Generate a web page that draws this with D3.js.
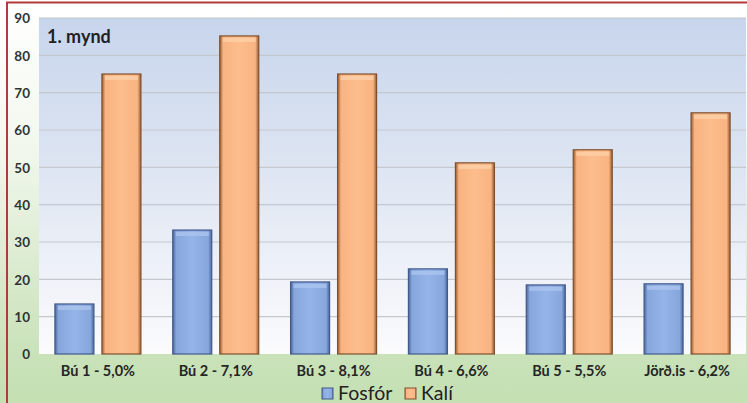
<!DOCTYPE html>
<html>
<head>
<meta charset="utf-8">
<script src="https://cdn.jsdelivr.net/npm/d3@7/dist/d3.min.js"></script>
<style>
  html, body { margin: 0; padding: 0; background: #fff; }
  svg { display: block; font-family: Lato, "Liberation Sans", sans-serif; }
</style>
</head>
<body>
<div id="chart"></div>
<script>
// Fosfór and Kalí per sample
const categories = ["Bú 1 - 5,0%", "Bú 2 - 7,1%", "Bú 3 - 8,1%", "Bú 4 - 6,6%", "Bú 5 - 5,5%", "Jörð.is - 6,2%"];
const fosfor = [13.4, 33.2, 19.3, 22.8, 18.5, 18.8];
const kali = [75, 85.2, 75, 51.2, 54.7, 64.6];
const seriesNames = ["Fosfór", "Kalí"];
const yTicks = [0, 10, 20, 30, 40, 50, 60, 70, 80, 90];
const title = "1. mynd";

const W = 747, H = 403;
const plot = { left: 39, right: 746, top: 18, bottom: 354 };

const svg = d3.select("#chart").append("svg").attr("width", W).attr("height", H);
const defs = svg.append("defs");

// outer background: white fading into light green
const bg = defs.append("linearGradient").attr("id", "bgGrad").attr("x1", 0).attr("y1", 0).attr("x2", 0).attr("y2", 1);
bg.append("stop").attr("offset", "0%").attr("stop-color", "#ffffff");
bg.append("stop").attr("offset", "35%").attr("stop-color", "#f3f8ef");
bg.append("stop").attr("offset", "88%").attr("stop-color", "#c9e2b9");
bg.append("stop").attr("offset", "100%").attr("stop-color", "#c5e0b3");

// plot area: light blue at top fading to white at bottom
const pg = defs.append("linearGradient").attr("id", "plotGrad").attr("x1", 0).attr("y1", 0).attr("x2", 0).attr("y2", 1);
pg.append("stop").attr("offset", "0%").attr("stop-color", "#c7d5ec");
pg.append("stop").attr("offset", "55%").attr("stop-color", "#e3e9f4");
pg.append("stop").attr("offset", "100%").attr("stop-color", "#fbfbfd");

// bevelled bar fills
function barGradient(id, edge, mid, light) {
  const g = defs.append("linearGradient").attr("id", id).attr("x1", 0).attr("y1", 0).attr("x2", 1).attr("y2", 0);
  g.append("stop").attr("offset", "0%").attr("stop-color", edge);
  g.append("stop").attr("offset", "9%").attr("stop-color", mid);
  g.append("stop").attr("offset", "50%").attr("stop-color", light);
  g.append("stop").attr("offset", "91%").attr("stop-color", mid);
  g.append("stop").attr("offset", "100%").attr("stop-color", edge);
}
barGradient("blueGrad", "#4b689e", "#86a6dc", "#95b4ea");
barGradient("orangeGrad", "#9c5e32", "#f8b482", "#fdbd8c");

const colors = { fill: ["url(#blueGrad)", "url(#orangeGrad)"], stroke: ["#42598a", "#80502e"], top: ["#aec6f0", "#fdd2aa"] };

svg.append("rect").attr("x", 0).attr("y", 0).attr("width", W).attr("height", H).attr("fill", "url(#bgGrad)");

const x0 = d3.scaleBand().domain(categories).range([plot.left, plot.right]).paddingInner(0).paddingOuter(0);
const barW = 39, gap = 8;
const y = d3.scaleLinear().domain([0, 90]).range([plot.bottom, plot.top]);

svg.append("rect").attr("x", plot.left).attr("y", plot.top)
  .attr("width", plot.right - plot.left).attr("height", plot.bottom - plot.top)
  .attr("fill", "url(#plotGrad)");

// gridlines
svg.append("g").selectAll("line").data(yTicks.filter(t => t > 0)).join("line")
  .attr("x1", plot.left).attr("x2", plot.right)
  .attr("y1", d => y(d)).attr("y2", d => y(d))
  .attr("stroke", "#c4c8cf").attr("stroke-width", 1.2);

// y axis labels
const yAxis = d3.axisLeft(y).tickValues(yTicks).tickSize(0).tickPadding(0);
const yg = svg.append("g").attr("transform", `translate(30,0)`).call(yAxis);
yg.select(".domain").remove();
yg.selectAll("text").attr("font-size", 13.5).attr("font-weight", "bold").attr("fill", "#333")
  .attr("font-family", "Lato, sans-serif").attr("dy", "0.35em");

// bars
const series = [fosfor, kali];
series.forEach((vals, si) => {
  const g = svg.append("g");
  const xPos = (c) => x0(c) + x0.bandwidth() / 2 + (si === 0 ? -gap / 2 - barW : gap / 2);
  g.selectAll("rect.bar").data(vals).join("rect").attr("class", "bar")
    .attr("x", (d, i) => xPos(categories[i]))
    .attr("y", d => y(d))
    .attr("width", barW)
    .attr("height", d => y(0) - y(d))
    .attr("fill", colors.fill[si])
    .attr("stroke", colors.stroke[si]).attr("stroke-width", 1.2);
  // lighter bevel across each bar's top
  g.selectAll("rect.cap").data(vals).join("rect").attr("class", "cap")
    .attr("x", (d, i) => xPos(categories[i]) + 3)
    .attr("y", d => y(d) + 2)
    .attr("width", barW - 6)
    .attr("height", 4)
    .attr("fill", colors.top[si]).attr("opacity", 0.75);
});

// x axis labels
const xAxis = d3.axisBottom(x0).tickSize(0).tickPadding(0);
const xg = svg.append("g").attr("transform", `translate(0,${plot.bottom + 12})`).call(xAxis);
xg.select(".domain").remove();
xg.selectAll("text").attr("font-size", 14.5).attr("font-weight", "bold").attr("fill", "#262626")
  .attr("font-family", "Lato, sans-serif").attr("dy", "0.71em");

// title
svg.append("text").attr("x", 47).attr("y", 43).text(title)
  .attr("font-size", 18).attr("font-weight", "bold").attr("fill", "#222");

// legend
const legend = [
  { name: seriesNames[0], fill: "url(#blueGrad)", stroke: colors.stroke[0], x: 322 },
  { name: seriesNames[1], fill: "url(#orangeGrad)", stroke: colors.stroke[1], x: 405 }
];
const lg = svg.append("g").selectAll("g").data(legend).join("g");
lg.append("rect").attr("x", d => d.x).attr("y", 388).attr("width", 11).attr("height", 11)
  .attr("fill", d => d.fill).attr("stroke", d => d.stroke);
lg.append("text").attr("x", d => d.x + 16).attr("y", 400).text(d => d.name)
  .attr("font-size", 19.5).attr("fill", "#222");

// frame
svg.append("path").attr("d", `M7,${H} L7,2.5 L${W},2.5`).attr("fill", "none")
  .attr("stroke", "#b23a3a").attr("stroke-width", 2);
</script>
</body>
</html>
